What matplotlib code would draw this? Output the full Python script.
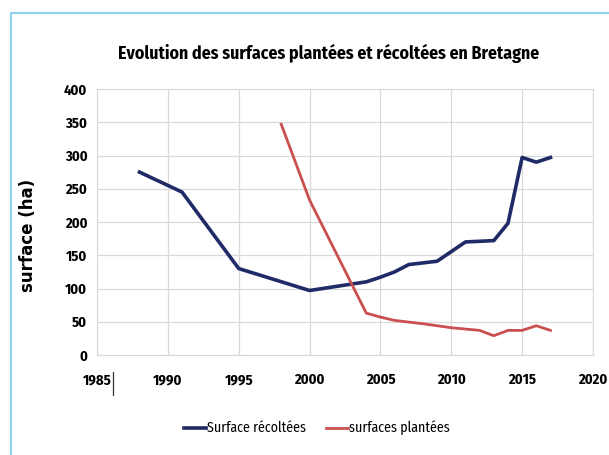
import matplotlib
matplotlib.use('Agg')
import matplotlib.pyplot as plt
from matplotlib.patches import Rectangle
from matplotlib.lines import Line2D

narrow = ['Fira Sans Condensed', 'DejaVu Sans']

# data
years_rec = [1988, 1991, 1995, 2000, 2004, 2005, 2006, 2007, 2009, 2011, 2013, 2014, 2015, 2016, 2017]
surf_rec = [275, 245, 130, 97, 110, 117, 125, 136, 141, 170, 172, 198, 297, 290, 297]

years_pl = [1998, 2000, 2004, 2005, 2006, 2008, 2010, 2012, 2013, 2014, 2015, 2016, 2017]
surf_pl = [347, 233, 63, 57, 52, 47, 41, 37, 29, 37, 37, 44, 37]

xticks = [1985, 1990, 1995, 2000, 2005, 2010, 2015, 2020]
yticks = [0, 50, 100, 150, 200, 250, 300, 350, 400]

fig = plt.figure(figsize=(6.09, 4.55), dpi=100)
ax = fig.add_axes([97/609, 1-355/455, (593-97)/609, (355-89)/455])

# light cyan frame around the chart
fig.patches.append(Rectangle((11/609, -0.05), 1.0, 1-13/455+0.05,
                             transform=fig.transFigure, fill=False,
                             ec='#8fd6ea', lw=1.5))

ax.plot(years_rec, surf_rec, c='#1f2a66', lw=2.6, solid_joinstyle='round', label='Surface récoltées')
ax.plot(years_pl, surf_pl, c='#c9504e', lw=2.0, solid_joinstyle='round', label='surfaces plantées')

ax.set_xlim(1985, 2020)
ax.set_ylim(0, 400)
ax.set_xticks(xticks)
ax.set_yticks(yticks)
ax.grid(True, color='#d9d9d9', lw=0.9)
ax.set_axisbelow(True)
for s in ax.spines.values():
    s.set_color('#d9d9d9')
ax.tick_params(axis='x', length=0, pad=13)
ax.tick_params(axis='y', length=0, pad=7)
for lab in ax.get_xticklabels() + ax.get_yticklabels():
    lab.set_family(narrow)
    lab.set_weight('bold')
    lab.set_fontsize(10.5)

ax.set_ylabel('surface (ha)', fontsize=12, fontweight='bold')
ax.yaxis.set_label_coords(-0.121, 0.45)

fig.text(329/609, 1-53/455, 'Evolution des surfaces plantées et récoltées en Bretagne',
         ha='center', va='center', fontsize=12.8, fontweight='bold', family=narrow)

# text cursor mark next to 1985
fig.add_artist(Line2D([113/609, 113/609], [1-372/455, 1-395/455], color='#333333', lw=0.9))

ax.legend(loc='center', bbox_to_anchor=(317/609, 1-428/455), bbox_transform=fig.transFigure,
          ncol=2, frameon=False, handlelength=1.6, handletextpad=0.1, columnspacing=1.4,
          prop={'family': narrow, 'size': 10})

plt.savefig('out.png', dpi=100)
